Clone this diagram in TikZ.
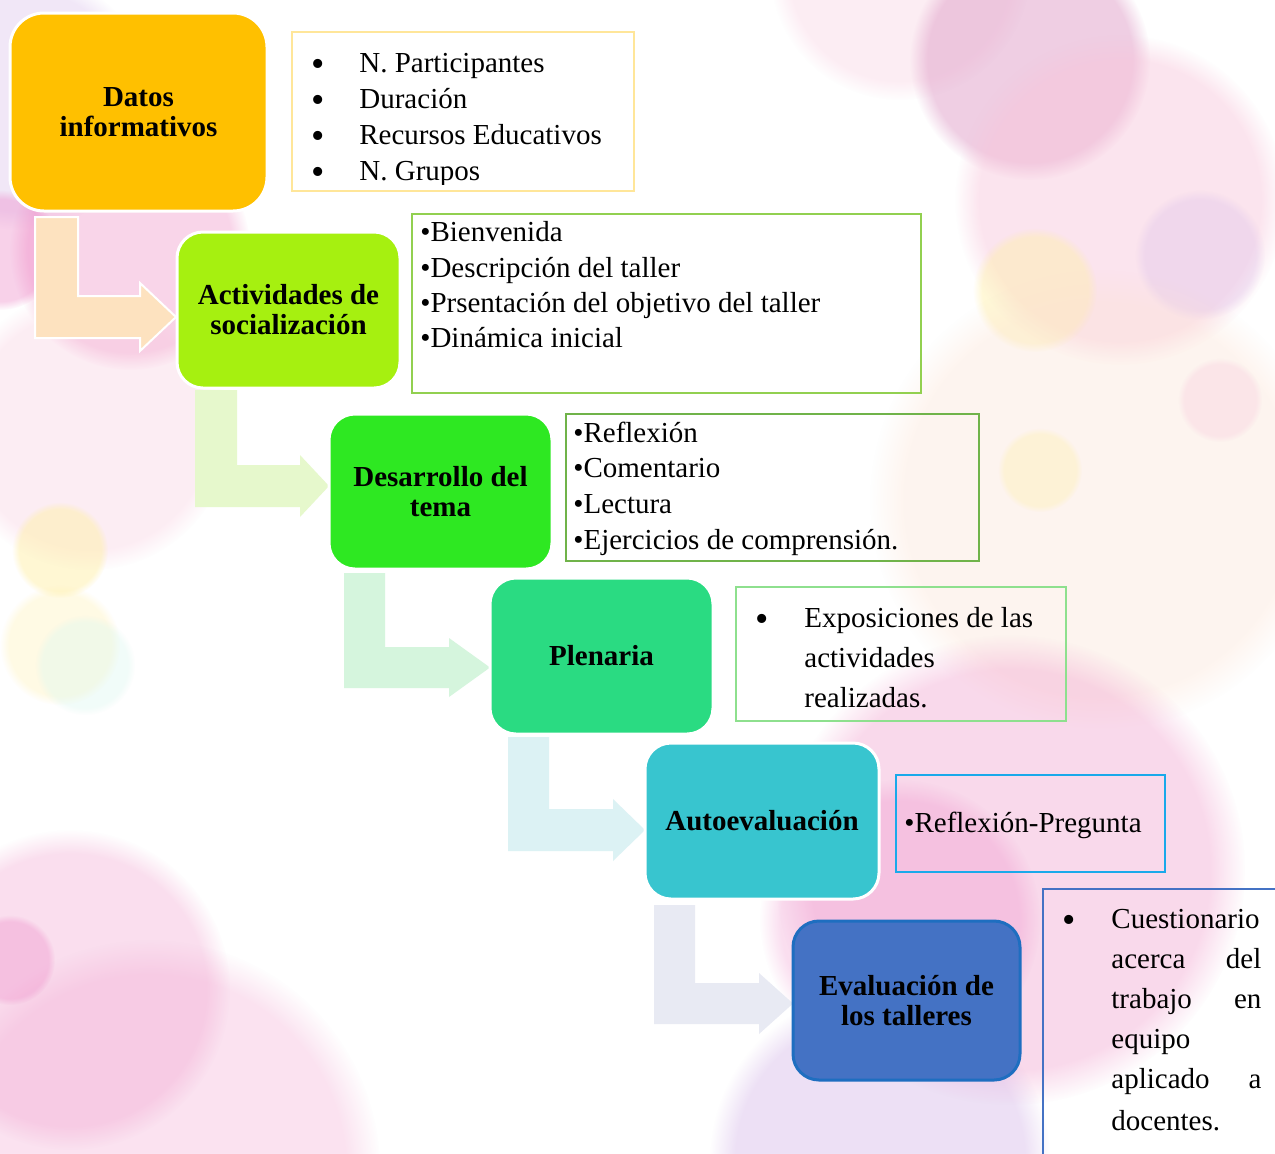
\documentclass[tikz,border=0pt]{standalone}
\usepackage{fontspec}
\setmainfont{Liberation Serif}
\usetikzlibrary{fadings}
\definecolor{cOrange}{HTML}{FFC000}
\definecolor{cLime}{HTML}{A6F010}
\definecolor{cGreen}{HTML}{2EE822}
\definecolor{cMint}{HTML}{2ADB82}
\definecolor{cCyan}{HTML}{38C5CF}
\definecolor{cBlue}{HTML}{4472C4}
\definecolor{cBlueEdge}{HTML}{1E6EC0}
\definecolor{lYellow}{HTML}{FFE699}
\definecolor{lGreenA}{HTML}{92D050}
\definecolor{lGreenB}{HTML}{70B34A}
\definecolor{lGreenC}{HTML}{8EE08E}
\definecolor{lBlueA}{HTML}{1AA9EA}
\definecolor{aPeach}{HTML}{FDE2BF}
\definecolor{aLime}{HTML}{E6F8CC}
\definecolor{aMint}{HTML}{D5F5DD}
\definecolor{aCyan}{HTML}{DCF2F4}
\definecolor{aLav}{HTML}{E8EAF3}
\definecolor{bPink}{HTML}{F2A2CF}
\definecolor{bMauve}{HTML}{E2A6CC}
\definecolor{bLight}{HTML}{F8C4DA}
\definecolor{bLav}{HTML}{D8BCEA}
\definecolor{bYellow}{HTML}{FFF0A8}
\definecolor{bMintc}{HTML}{DDF8F0}
\definecolor{bPeach}{HTML}{FCE2D2}
\definecolor{bMag}{HTML}{EC7CC2}
\newcommand\bokeh[5]{\fill[#4, fill opacity=#5, path fading=circle with fuzzy edge 15 percent] (#1,#2) circle (#3);}
\newcommand\larrow[9]{\fill[#9] (#1,#3) -- (#2,#3) -- (#2,#4) -- (#6,#4) -- (#6,#7) -- (#8,{(#4+#5)/2}) -- (#6,{#7+(#5-#4)+2*(#4-#7)}) -- (#6,#5) -- (#1,#5) -- cycle;}
\begin{document}
\begin{tikzpicture}[x=0.5pt,y=-0.5pt,
  head/.style={rounded corners=13pt, draw=white, line width=1.5pt, align=center, inner sep=0pt, font=\bfseries\fontsize{14.5}{15}\selectfont, text=black},
  lst/.style={draw, line width=1pt, inner sep=0pt, outer sep=0pt},
  itm/.style={anchor=base west, inner sep=0pt, font=\fontsize{14.5}{17}\selectfont},
  bul/.style={anchor=base, inner sep=0pt, font=\fontsize{19}{19}\selectfont}
]
\useasboundingbox (0,0) rectangle (1275,1153);
\clip (0,0) rectangle (1275,1153);
\fill[white] (0,0) rectangle (1275,1153);
% background bokeh
\bokeh{20}{100}{130}{bLav}{0.35}
\bokeh{900}{-30}{130}{bLight}{0.3}
\bokeh{130}{250}{120}{bPink}{0.45}
\bokeh{0}{250}{60}{bMag}{0.35}
\bokeh{90}{430}{140}{bLight}{0.3}
\bokeh{60}{550}{48}{bYellow}{0.5}
\bokeh{60}{645}{60}{bYellow}{0.3}
\bokeh{85}{665}{50}{bMintc}{0.4}
\bokeh{70}{990}{160}{bPink}{0.35}
\bokeh{150}{1170}{230}{bPink}{0.3}
\bokeh{10}{960}{45}{bMag}{0.3}
\bokeh{1030}{60}{120}{bMauve}{0.55}
\bokeh{1120}{200}{165}{bLight}{0.45}
\bokeh{1200}{255}{65}{bLav}{0.3}
\bokeh{1035}{290}{62}{bYellow}{0.45}
\bokeh{1100}{500}{230}{bPeach}{0.35}
\bokeh{1040}{470}{42}{bYellow}{0.35}
\bokeh{1220}{400}{42}{bLight}{0.3}
\bokeh{1010}{870}{235}{bPink}{0.4}
\bokeh{900}{920}{140}{bMag}{0.25}
\bokeh{880}{1160}{170}{bLav}{0.45}
% block arrows
\larrow{35}{78}{217}{296}{338}{140}{283}{176}{aPeach}
\draw[white, line width=1pt] (35,217) -- (78,217) -- (78,296) -- (140,296) -- (140,283) -- (176,317) -- (140,351) -- (140,338) -- (35,338) -- cycle;
\larrow{195}{237}{390}{465}{507}{300}{455}{329}{aLime}
\larrow{344}{385}{573}{647}{688}{449}{638}{490}{aMint}
\larrow{508}{549}{737}{809}{851}{613}{799}{645}{aCyan}
\larrow{654}{695}{905}{983}{1024}{759}{973}{793}{aLav}
% headings
\node[head, fill=cOrange, rounded corners=17pt, minimum width=128.5pt, minimum height=99pt] (b1) at (138.5,112) {Datos\\informativos};
\node[head, fill=cLime, minimum width=111.5pt, minimum height=78pt] (b2) at (288.5,310) {Actividades de\\socialización};
\node[head, fill=cGreen, minimum width=111.5pt, minimum height=77.5pt] (b3) at (440.5,491.5) {Desarrollo del\\tema};
\node[head, fill=cMint, minimum width=111.5pt, minimum height=78pt] (b4) at (601.5,656) {Plenaria};
\node[head, fill=cCyan, minimum width=117pt, minimum height=78pt] (b5) at (762,821) {Autoevaluación};
\node[head, fill=cBlue, draw=cBlueEdge, minimum width=113.5pt, minimum height=79.5pt] (b6) at (906.5,1000.5) {Evaluación de\\los talleres};
% list boxes
\node[lst, draw=lYellow, minimum width=171pt, minimum height=79.5pt] (l1) at (463,111.5) {};
\node[lst, draw=lGreenA, minimum width=254.5pt, minimum height=89.5pt] (l2) at (666,303.5) {};
\node[lst, draw=lGreenB, minimum width=206.5pt, minimum height=73.5pt] (l3) at (772,487.5) {};
\node[lst, draw=lGreenC, minimum width=165pt, minimum height=67pt] (l4) at (900.5,654) {};
\node[lst, draw=lBlueA, minimum width=134.75pt, minimum height=48.5pt] (l5) at (1030.25,823.5) {};
\node[lst, draw=cBlue, minimum width=128.5pt, minimum height=145.5pt] (l6) at (1171.5,1034.5) {};
% list 1
\begin{scope}
\clip (292,32) rectangle (634,184);
\node[bul] (p1a) at (318,76) {•};
\node[itm] (t1a) at (359,72) {N. Participantes};
\node[bul] (p1b) at (318,112) {•};
\node[itm] (t1b) at (359,108) {Duración};
\node[bul] (p1c) at (318,148) {•};
\node[itm] (t1c) at (359,144) {Recursos Educativos};
\node[bul] (p1d) at (318,184) {•};
\node[itm] (t1d) at (359,180) {N. Grupos};
\end{scope}
% list 2
\node[itm] (t2a) at (420,241) {•Bienvenida};
\node[itm] (t2b) at (420,277) {•Descripción del taller};
\node[itm] (t2c) at (420,312) {•Prsentación del objetivo del taller};
\node[itm] (t2d) at (420,347) {•Dinámica inicial};
% list 3
\node[itm] (t3a) at (573,442) {•Reflexión};
\node[itm] (t3b) at (573,477) {•Comentario};
\node[itm] (t3c) at (573,513) {•Lectura};
\node[itm] (t3d) at (573,549) {•Ejercicios de comprensión.};
% list 4
\node[bul] (p4a) at (762,631) {•};
\node[itm] (t4a) at (804,627) {Exposiciones de las};
\node[itm] (t4b) at (804,667) {actividades};
\node[itm] (t4c) at (804,707) {realizadas.};
% list 5
\node[itm] (t5a) at (904,832) {•Reflexión-Pregunta};
% list 6
\node[bul] (p6a) at (1069,932) {•};
\node[itm] (t6a) at (1111,928) {Cuestionario};
\node[itm] (t6b) at (1111,968) {\hbox to 75pt{acerca\hfill del}};
\node[itm] (t6c) at (1111,1008) {\hbox to 75pt{trabajo\hfill en}};
\node[itm] (t6d) at (1111,1048) {equipo};
\node[itm] (t6e) at (1111,1088) {\hbox to 75pt{aplicado\hfill a}};
\node[itm] (t6f) at (1111,1130) {docentes.};
\end{tikzpicture}
\end{document}
